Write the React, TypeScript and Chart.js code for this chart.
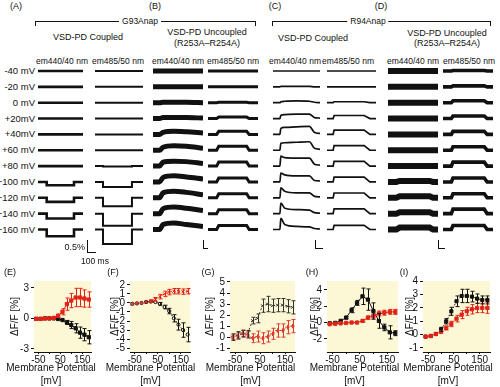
import React, { useEffect, useRef } from 'react';
import { Chart, registerables } from 'chart.js';

Chart.register(...registerables);

const FONT = '"Liberation Sans", Arial, Helvetica, sans-serif';
const INK = '#111111';
const RED = '#e2231a';
const PALE_YELLOW = '#fcf7d4';

// ---------------- (A)-(D): optical traces ----------------
const ROW_LABELS = ['-40 mV', '-20 mV', '0 mV', '+20mV', '+40mV', '+60 mV', '+80 mV', '\u2212100 mV', '\u2212120 mV', '\u2212140 mV', '\u2212160 mV'];
const TRACE_END_MS = 600;

// step-like traces: ΔF/F (%) during the pulse, one value per row
const A1_AMP = [0, 0, 0, 0, 0, 0, 0, -0.14, -0.17, -0.2, -0.28];
const A2_AMP = [0, 0, 0, 0, 0, 0, -0.02, -0.21, -0.35, -0.5, -0.6];
const B2_AMP = [0, 0, 0.03, 0.09, 0.19, 0.25, 0.25, 0.25, 0.25, 0.25, 0.25];
const C2_AMP = [0, 0, 0.06, 0.19, 0.27, 0.29, 0.3, 0.3, 0.3, 0.3, 0.26];
const D1_AMP = [0, 0, 0, 0, 0, 0, 0, 0.06, 0.09, 0.09, 0.12];
const D2_AMP = [0.03, 0.06, 0.12, 0.16, 0.19, 0.22, 0.25, 0.25, 0.25, 0.28, 0.25];

// pulse timing (ms) of the step-like columns
const A1_PULSE = { on: 116, rise: 0, off: 480, fall: 0 };
const A2_PULSE = { on: 100, rise: 0, off: 462, fall: 0 };
const B2_PULSE = { on: 104, rise: 25, off: 464, fall: 30 };
const C2_PULSE = { on: 75, rise: 12, off: 455, fall: 70 };
const D1_PULSE = { on: 100, rise: 40, off: 500, fall: 40 };
const D2_PULSE = { on: 100, rise: 20, off: 495, fall: 35 };

// shaped traces sampled at fixed times (ms), ΔF/F in %
const B1_TIMES = [0, 80, 120, 250, 400, 600];
const B1_VALUES = [
  [0, 0, 0, 0, 0, 0],
  [0, 0, 0, 0, 0, 0],
  [0, 0, 0.03, 0.03, 0.03, 0],
  [0, 0, 0.06, 0.06, 0.06, 0.03],
  [0, 0, 0.12, 0.19, 0.16, 0.09],
  [0, 0, 0.19, 0.28, 0.25, 0.12],
  [0, 0, 0.25, 0.31, 0.28, 0.16],
  [0, 0, 0.28, 0.38, 0.31, 0.19],
  [0, 0, 0.31, 0.41, 0.34, 0.19],
  [0, 0, 0.31, 0.41, 0.34, 0.19],
  [0, 0, 0.31, 0.41, 0.31, 0.19],
];
const C1_TIMES = [0, 88, 100, 150, 300, 465, 530, 600];
const C1_VALUES = [
  [0, 0, 0, 0, 0, 0, 0, 0],
  [0, 0, 0.03, 0.03, 0.03, 0.03, 0, 0],
  [0, 0, 0.06, 0.09, 0.12, 0.09, 0.03, 0],
  [0, 0, 0.19, 0.25, 0.28, 0.28, 0.06, 0.03],
  [0, 0, 0.38, 0.44, 0.47, 0.5, 0.12, 0.06],
  [0, 0, 0.44, 0.47, 0.5, 0.53, 0.12, 0.06],
  [0, 0, 0.62, 0.53, 0.5, 0.5, 0.12, 0.06],
  [0, 0, 0.56, 0.44, 0.38, 0.38, 0.09, 0.06],
  [0, 0, 0.62, 0.41, 0.31, 0.31, 0.09, 0.06],
  [0, 0, 0.66, 0.34, 0.25, 0.22, 0.06, 0.03],
  [0, 0, 0.69, 0.31, 0.19, 0.16, 0.06, 0.03],
];

// ---------------- (E)-(I): ΔF/F vs membrane potential ----------------
const VOLTAGES = [-60, -40, -20, 0, 20, 40, 60, 80, 100, 120, 140, 160, 180];

const E_RED = [-0.05, -0.05, 0, 0, 0.05, 0.26, 0.65, 1.4, 1.75, 2.05, 2.05, 1.95, 1.85];
const E_RED_ERR = [0.05, 0.05, 0.05, 0.05, 0.1, 0.15, 0.3, 0.6, 0.7, 0.9, 0.9, 0.85, 0.75];
const E_BLACK = [-0.05, -0.05, 0, 0, 0, -0.06, -0.16, -0.4, -0.65, -0.97, -1.4, -1.6, -1.85];
const E_BLACK_ERR = [0.05, 0.05, 0.05, 0.05, 0.05, 0.05, 0.1, 0.2, 0.35, 0.45, 0.55, 0.6, 0.65];

const F_RED = [-0.1, -0.05, 0, 0.1, 0.2, 0.4, 0.7, 1.0, 1.2, 1.3, 1.3, 1.25, 1.3];
const F_RED_ERR = [0.05, 0.05, 0.1, 0.1, 0.15, 0.2, 0.25, 0.3, 0.3, 0.3, 0.3, 0.3, 0.3];
const F_BLACK = [-0.1, -0.05, 0, 0.1, 0.15, 0.1, -0.1, -0.45, -0.9, -1.7, -2.4, -3.0, -3.5];
const F_BLACK_ERR = [0.05, 0.05, 0.05, 0.05, 0.1, 0.1, 0.15, 0.2, 0.3, 0.4, 0.6, 0.8, 0.8];

const G_RED = [0, 0.1, 0.35, 0.2, -0.1, 0.05, -0.1, 0.05, 0.3, 0.6, 0.6, 0.9, 1.0];
const G_RED_ERR = [0.2, 0.3, 0.3, 0.3, 0.4, 0.5, 0.5, 0.5, 0.5, 0.6, 0.6, 0.6, 0.6];
const G_BLACK = [0, 0.2, 0.3, 0.3, 1.5, 1.7, 2.85, 3.0, 2.85, 2.9, 2.9, 2.8, 2.7];
const G_BLACK_ERR = [0.3, 0.3, 0.3, 0.3, 0.3, 0.4, 0.6, 0.7, 0.6, 0.6, 0.6, 0.6, 0.6];

const H_RED = [-0.2, -0.15, -0.1, -0.05, 0, 0, 0.2, 0.6, 0.8, 1.1, 1.2, 1.3, 1.3];
const H_RED_ERR = [0.05, 0.05, 0.05, 0.05, 0.05, 0.1, 0.15, 0.2, 0.25, 0.3, 0.3, 0.3, 0.3];
const H_BLACK = [-0.1, -0.05, 0.2, 0.6, 1.5, 2.4, 3.2, 2.8, 1.4, 0.2, -0.6, -1.2, -1.3];
const H_BLACK_ERR = [0.05, 0.05, 0.1, 0.15, 0.3, 0.3, 1.0, 1.3, 1.0, 0.9, 0.4, 0.8, 0.3];

const I_RED = [-0.15, -0.1, 0.05, 0.2, 0.5, 0.8, 1.2, 1.5, 1.75, 1.9, 2.0, 2.0, 2.0];
const I_RED_ERR = [0.05, 0.05, 0.05, 0.1, 0.15, 0.2, 0.25, 0.3, 0.3, 0.35, 0.35, 0.35, 0.4];
const I_BLACK = [-0.15, -0.1, 0.05, 0.4, 1.0, 1.75, 2.5, 2.9, 2.9, 2.85, 2.7, 2.6, 2.6];
const I_BLACK_ERR = [0.05, 0.05, 0.1, 0.15, 0.2, 0.3, 0.4, 0.5, 0.5, 0.4, 0.35, 0.3, 0.3];

const X_TICKS = [-50, 0, 50, 100, 150];
const X_TICK_LABELS = [-50, 50, 150];
const X_TITLE = ['Membrane Potential', '[mV]'];
const Y_TITLE = '\u0394F/F [%]';

// ---------------- layout ----------------
const ROW_Y0 = 71;
const ROW_DY = 15.85;
const TRACE_TOP = 62;
const TRACE_H = 192;
const PLOT_T = 279;
const PLOT_B = 352;
const X_AXIS_H = 387 - PLOT_B;

type Trace = { t: number[]; v: number[] };
type Pulse = { on: number; rise: number; off: number; fall: number };

function stepTrace(a: number, p: Pulse): Trace {
  return {
    t: [0, p.on, p.on + p.rise, p.off, p.off + p.fall, TRACE_END_MS],
    v: [0, 0, a, a, 0, 0],
  };
}

const COLUMNS = [
  { left: 38, right: 83, ppp: 24, lw: 2.6, smooth: false, rows: A1_AMP.map((a) => stepTrace(a, A1_PULSE)) },
  { left: 95, right: 143, ppp: 24, lw: 2.0, smooth: false, rows: A2_AMP.map((a) => stepTrace(a, A2_PULSE)) },
  { left: 153, right: 203, ppp: 16, lw: 5.0, smooth: true, rows: B1_VALUES.map((v) => ({ t: B1_TIMES, v })) },
  { left: 208, right: 258, ppp: 16, lw: 3.0, smooth: false, rows: B2_AMP.map((a) => stepTrace(a, B2_PULSE)) },
  { left: 273, right: 320, ppp: 16, lw: 1.7, smooth: true, rows: C1_VALUES.map((v) => ({ t: C1_TIMES, v })) },
  { left: 327, right: 376, ppp: 16, lw: 1.7, smooth: false, rows: C2_AMP.map((a) => stepTrace(a, C2_PULSE)) },
  { left: 388, right: 438, ppp: 16, lw: 6.0, smooth: false, rows: D1_AMP.map((a) => stepTrace(a, D1_PULSE)) },
  { left: 443, right: 493, ppp: 16, lw: 3.6, smooth: false, rows: D2_AMP.map((a) => stepTrace(a, D2_PULSE)) },
];

type Series = { values: number[]; errors: number[]; color: string; marker: string; radius: number; fill?: string; dash?: number[] };

const PANELS: { letter: string; L: number; R: number; titleX: number; ymin: number; ymax: number; yticks: number[]; series: Series[] }[] = [
  {
    letter: '(E)', L: 34, R: 93, titleX: 15, ymin: -3.3, ymax: 3.67, yticks: [-3, 0, 3],
    series: [
      { values: E_RED, errors: E_RED_ERR, color: RED, marker: 'rect', radius: 2.3 },
      { values: E_BLACK, errors: E_BLACK_ERR, color: INK, marker: 'rect', radius: 2.3 },
    ],
  },
  {
    letter: '(F)', L: 130, R: 192, titleX: 115, ymin: -5.43, ymax: 2.43, yticks: [-5, -4, -3, -2, -1, 0, 1, 2],
    series: [
      { values: F_RED, errors: F_RED_ERR, color: RED, marker: 'crossRot', radius: 2.2, dash: [2, 2] },
      { values: F_BLACK, errors: F_BLACK_ERR, color: INK, marker: 'circle', radius: 1.6, fill: PALE_YELLOW, dash: [2, 2] },
    ],
  },
  {
    letter: '(G)', L: 230, R: 297, titleX: 210, ymin: -1.35, ymax: 5.09, yticks: [-1, 0, 1, 2, 3, 4, 5],
    series: [
      { values: G_RED, errors: G_RED_ERR, color: '#e03a34', marker: 'cross', radius: 2.2, dash: [2, 2] },
      { values: G_BLACK, errors: G_BLACK_ERR, color: '#333333', marker: 'crossRot', radius: 2, dash: [2, 2] },
    ],
  },
  {
    letter: '(H)', L: 327, R: 400, titleX: 315, ymin: -3.6, ymax: 5.07, yticks: [-2, 0, 2, 4],
    series: [
      { values: H_RED, errors: H_RED_ERR, color: RED, marker: 'rect', radius: 2.3 },
      { values: H_BLACK, errors: H_BLACK_ERR, color: INK, marker: 'rect', radius: 2.3 },
    ],
  },
  {
    letter: '(I)', L: 423, R: 492, titleX: 410, ymin: -1.3, ymax: 4.02, yticks: [-1, 0, 1, 2, 3, 4],
    series: [
      { values: I_RED, errors: I_RED_ERR, color: RED, marker: 'rect', radius: 2.3, dash: [2, 2] },
      { values: I_BLACK, errors: I_BLACK_ERR, color: INK, marker: 'rect', radius: 2.2, dash: [1.5, 1.5] },
    ],
  },
];

const yellowPlugin = {
  id: 'paleYellow',
  beforeDatasetsDraw(chart: any) {
    const { ctx, chartArea } = chart;
    ctx.save();
    ctx.fillStyle = PALE_YELLOW;
    ctx.fillRect(chartArea.left, chartArea.top, chartArea.right - chartArea.left, chartArea.bottom - chartArea.top);
    ctx.restore();
  },
};

const errorBarPlugin = {
  id: 'errorBars',
  afterDatasetsDraw(chart: any) {
    const { ctx } = chart;
    const xs = chart.scales.x;
    const ys = chart.scales.y;
    chart.data.datasets.forEach((ds: any) => {
      if (!ds.errors) return;
      ctx.save();
      ctx.strokeStyle = ds.borderColor;
      ctx.lineWidth = 1;
      ctx.setLineDash([]);
      ds.data.forEach((p: any, k: number) => {
        const e = ds.errors[k];
        if (!e || e < 0.12) return;
        const x = Math.round(xs.getPixelForValue(p.x)) + 0.5;
        const y1 = ys.getPixelForValue(p.y - e);
        const y2 = ys.getPixelForValue(p.y + e);
        ctx.beginPath();
        ctx.moveTo(x, y1);
        ctx.lineTo(x, y2);
        ctx.moveTo(x - 2, y1);
        ctx.lineTo(x + 2, y1);
        ctx.moveTo(x - 2, y2);
        ctx.lineTo(x + 2, y2);
        ctx.stroke();
      });
      ctx.restore();
    });
  },
};

function TraceColumn({ col }: { col: (typeof COLUMNS)[number] }) {
  const ref = useRef<HTMLCanvasElement>(null);
  const w = col.right - col.left;
  useEffect(() => {
    const datasets = col.rows.map((tr, i) => {
      const base = -(ROW_Y0 + i * ROW_DY - TRACE_TOP) / col.ppp;
      return {
        data: tr.t.map((t, k) => ({ x: t, y: base + tr.v[k] })),
        showLine: true,
        borderColor: INK,
        backgroundColor: INK,
        borderWidth: col.lw,
        pointRadius: 0,
        tension: 0,
        cubicInterpolationMode: col.smooth ? 'monotone' : 'default',
        fill: false,
      };
    });
    const chart = new Chart(ref.current as HTMLCanvasElement, {
      type: 'scatter',
      data: { datasets } as any,
      options: {
        animation: false,
        responsive: false,
        devicePixelRatio: 1,
        events: [],
        layout: { padding: 0 },
        plugins: { legend: { display: false }, tooltip: { enabled: false } },
        scales: {
          x: { type: 'linear', display: false, min: 0, max: TRACE_END_MS },
          y: { type: 'linear', display: false, min: -TRACE_H / col.ppp, max: 0 },
        },
      } as any,
    });
    return () => chart.destroy();
  }, []);
  return (
    <canvas
      ref={ref}
      width={w}
      height={TRACE_H}
      style={{ position: 'absolute', left: col.left, top: TRACE_TOP, width: w, height: TRACE_H }}
    />
  );
}

function ResponsePlot({ p }: { p: (typeof PANELS)[number] }) {
  const ref = useRef<HTMLCanvasElement>(null);
  const canvasLeft = p.titleX - 6;
  const yAxisW = p.L - canvasLeft;
  const w = yAxisW + (p.R - p.L) + 3;
  const h = 3 + (PLOT_B - PLOT_T) + X_AXIS_H;
  useEffect(() => {
    const datasets = p.series.map((s) => ({
      data: VOLTAGES.map((v, i) => ({ x: v, y: s.values[i] })),
      errors: s.errors,
      showLine: true,
      borderColor: s.color,
      backgroundColor: s.color,
      borderWidth: 1,
      borderDash: s.dash ?? [],
      pointStyle: s.marker,
      pointRadius: s.radius,
      pointBorderColor: s.color,
      pointBackgroundColor: s.fill ?? s.color,
      pointBorderWidth: 1,
      tension: 0,
    }));
    const tickFont = { family: FONT, size: 10 };
    const chart = new Chart(ref.current as HTMLCanvasElement, {
      type: 'scatter',
      data: { datasets } as any,
      options: {
        animation: false,
        responsive: false,
        devicePixelRatio: 1,
        events: [],
        layout: { padding: { top: 3, right: 3, left: 0, bottom: 0 } },
        plugins: { legend: { display: false }, tooltip: { enabled: false } },
        scales: {
          x: {
            type: 'linear',
            min: -70,
            max: 190,
            afterBuildTicks: (s: any) => {
              s.ticks = X_TICKS.map((v) => ({ value: v }));
            },
            afterFit: (s: any) => {
              s.height = X_AXIS_H;
              s.paddingLeft = 0;
              s.paddingRight = 0;
            },
            ticks: {
              autoSkip: false,
              maxRotation: 0,
              padding: 0,
              color: INK,
              font: tickFont,
              callback: (v: any) => (X_TICK_LABELS.includes(Number(v)) ? String(v) : ''),
            },
            grid: { display: true, drawOnChartArea: false, drawTicks: true, tickLength: 2, color: INK },
            border: { display: true, color: INK, width: 1 },
            title: { display: false },
          },
          y: {
            type: 'linear',
            min: p.ymin,
            max: p.ymax,
            afterBuildTicks: (s: any) => {
              s.ticks = p.yticks.map((v) => ({ value: v }));
            },
            afterFit: (s: any) => {
              s.width = yAxisW;
              s.paddingTop = 0;
              s.paddingBottom = 0;
            },
            ticks: { autoSkip: false, padding: 2, color: INK, font: tickFont, callback: (v: any) => String(v) },
            grid: { display: true, drawOnChartArea: false, drawTicks: true, tickLength: 3, color: INK },
            border: { display: true, color: INK, width: 1 },
            title: {
              display: true,
              text: Y_TITLE,
              color: INK,
              font: { family: FONT, size: 10, lineHeight: 1.2 },
              padding: 0,
            },
          },
        },
      } as any,
      plugins: [yellowPlugin, errorBarPlugin],
    });
    return () => chart.destroy();
  }, []);
  const cx = (canvasLeft + p.R) / 2;
  return (
    <>
      <canvas
        ref={ref}
        width={w}
        height={h}
        style={{ position: 'absolute', left: canvasLeft, top: PLOT_T - 3, width: w, height: h }}
      />
      <Txt x={cx} y={368} text={X_TITLE[0]} size={10} />
      <Txt x={cx} y={381} text={X_TITLE[1]} size={10} />
    </>
  );
}

function Txt({ x, y, text, size = 9, align = 'center', bg }: { x: number; y: number; text: string; size?: number; align?: 'center' | 'right' | 'left'; bg?: boolean }) {
  const tx = align === 'center' ? '-50%' : align === 'right' ? '-100%' : '0';
  return (
    <div
      style={{
        position: 'absolute',
        left: x,
        top: y,
        transform: `translate(${tx}, -50%)`,
        fontFamily: FONT,
        fontSize: size,
        lineHeight: 1,
        color: INK,
        whiteSpace: 'nowrap',
        background: bg ? '#ffffff' : 'transparent',
        padding: bg ? '0 3px' : 0,
      }}
    >
      {text}
    </div>
  );
}

function Bracket({ x1, x2, y }: { x1: number; x2: number; y: number }) {
  return (
    <div
      style={{
        position: 'absolute',
        left: x1,
        top: y,
        width: x2 - x1,
        height: 5,
        borderTop: `1px solid ${INK}`,
        borderLeft: `1px solid ${INK}`,
        borderRight: `1px solid ${INK}`,
        boxSizing: 'border-box',
      }}
    />
  );
}

function ScaleBar({ x, y, w, h }: { x: number; y: number; w: number; h: number }) {
  return (
    <div
      style={{
        position: 'absolute',
        left: x,
        top: y - h,
        width: w,
        height: h,
        borderLeft: `1px solid ${INK}`,
        borderBottom: `1px solid ${INK}`,
        boxSizing: 'border-box',
      }}
    />
  );
}

const PANEL_LETTERS_TOP = [
  { t: '(A)', x: 16 },
  { t: '(B)', x: 155 },
  { t: '(C)', x: 275 },
  { t: '(D)', x: 381 },
];
const EM_HEADERS = [
  { t: 'em440/40 nm', x: 62 },
  { t: 'em485/50 nm', x: 118 },
  { t: 'em440/40 nm', x: 178 },
  { t: 'em485/50 nm', x: 233 },
  { t: 'em440/40 nm', x: 295 },
  { t: 'em485/50 nm', x: 348 },
  { t: 'em440/40 nm', x: 413 },
  { t: 'em485/50 nm', x: 469 },
];
const PANEL_LETTERS_BOTTOM = [
  { t: '(E)', x: 10 },
  { t: '(F)', x: 113 },
  { t: '(G)', x: 208 },
  { t: '(H)', x: 312 },
  { t: '(I)', x: 404 },
];
const COUPLED = 'VSD-PD Coupled';
const UNCOUPLED = 'VSD-PD Uncoupled';
const MUTANT = '(R253A\u2013R254A)';

export default function App() {
  return (
    <div
      style={{
        position: 'fixed',
        left: 0,
        top: 0,
        width: 500,
        height: 387,
        background: '#ffffff',
        overflow: 'hidden',
      }}
    >
      {PANEL_LETTERS_TOP.map((p) => (
        <Txt key={p.t} x={p.x} y={6} text={p.t} size={9} />
      ))}
      <Bracket x1={35} x2={256} y={21} />
      <Txt x={140} y={21} text="G93Anap" size={8.5} bg />
      <Bracket x1={272} x2={491} y={21} />
      <Txt x={368} y={21} text="R94Anap" size={8.5} bg />

      <Txt x={88} y={37} text={COUPLED} size={9} />
      <Txt x={207} y={32} text={UNCOUPLED} size={9} />
      <Txt x={207} y={43} text={MUTANT} size={9} />
      <Txt x={313} y={38} text={COUPLED} size={9} />
      <Txt x={447} y={33} text={UNCOUPLED} size={9} />
      <Txt x={447} y={43} text={MUTANT} size={9} />

      {EM_HEADERS.map((h, i) => (
        <Txt key={i} x={h.x} y={61} text={h.t} size={8.5} />
      ))}
      {ROW_LABELS.map((r, i) => (
        <Txt key={r} x={35} y={ROW_Y0 + i * ROW_DY} text={r} size={9.5} align="right" />
      ))}

      {COLUMNS.map((c, i) => (
        <TraceColumn key={i} col={c} />
      ))}

      <ScaleBar x={87} y={253} w={9} h={13} />
      <Txt x={85} y={247} text="0.5%" size={9} align="right" />
      <Txt x={95} y={261} text="100 ms" size={8.5} />
      <ScaleBar x={203} y={249} w={5} h={9} />
      <ScaleBar x={315} y={249} w={8} h={9} />
      <ScaleBar x={438} y={249} w={7} h={9} />

      {PANEL_LETTERS_BOTTOM.map((p) => (
        <Txt key={p.t} x={p.x} y={272} text={p.t} size={9} />
      ))}
      {PANELS.map((p) => (
        <ResponsePlot key={p.letter} p={p} />
      ))}
    </div>
  );
}
